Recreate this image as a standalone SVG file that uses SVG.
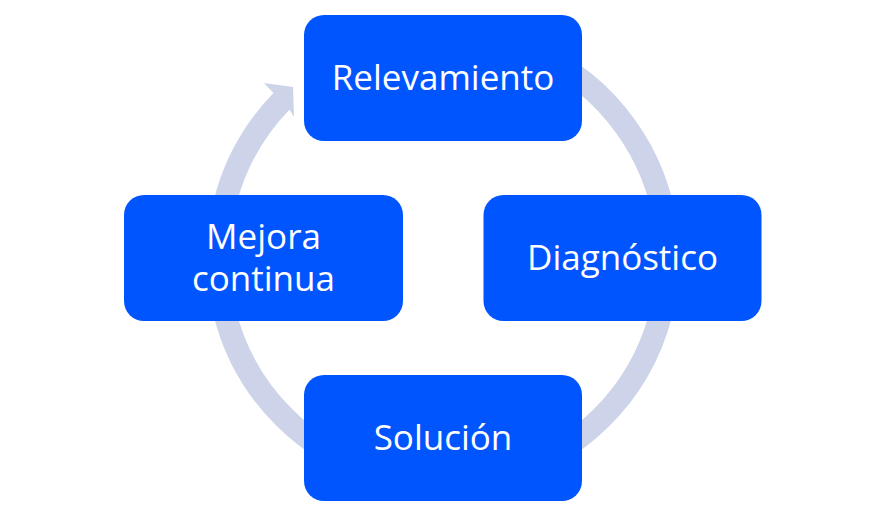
<svg xmlns="http://www.w3.org/2000/svg" width="886" height="517" viewBox="0 0 886 517">
<style>
.box{fill:#0055FF;}
.lbl{fill:#FFFFFF;font-family:"Open Sans","Noto Sans","Liberation Sans",sans-serif;font-size:35px;text-anchor:middle;}
.ring{fill:none;stroke:#CDD4EA;stroke-width:23;}
.head{fill:#CDD4EA;}
</style>
<rect width="886" height="517" fill="#FFFFFF"/>
<g id="connectors">
<path class="ring" d="M 313.9 73.7 A 225 225 0 1 1 281.9 100.9"/>
<polygon class="head" points="264,83 293,87 294,117 289.5,109.5 273,92.5"/>
</g>
<g id="node-relevamiento">
<rect class="box" x="304" y="15" width="278" height="126" rx="20" ry="20"/>
<text class="lbl" x="443" y="90">Relevamiento</text>
</g>
<g id="node-diagnostico">
<rect class="box" x="483.5" y="195" width="278" height="126" rx="20" ry="20"/>
<text class="lbl" x="622.5" y="270">Diagnóstico</text>
</g>
<g id="node-solucion">
<rect class="box" x="304" y="375" width="278" height="126" rx="20" ry="20"/>
<text class="lbl" x="443" y="450">Solución</text>
</g>
<g id="node-mejora">
<rect class="box" x="124" y="195" width="279" height="126" rx="20" ry="20"/>
<text class="lbl" x="263.5" y="249"><tspan x="263.5" y="249">Mejora</tspan><tspan x="263.5" y="291">continua</tspan></text>
</g>
</svg>
